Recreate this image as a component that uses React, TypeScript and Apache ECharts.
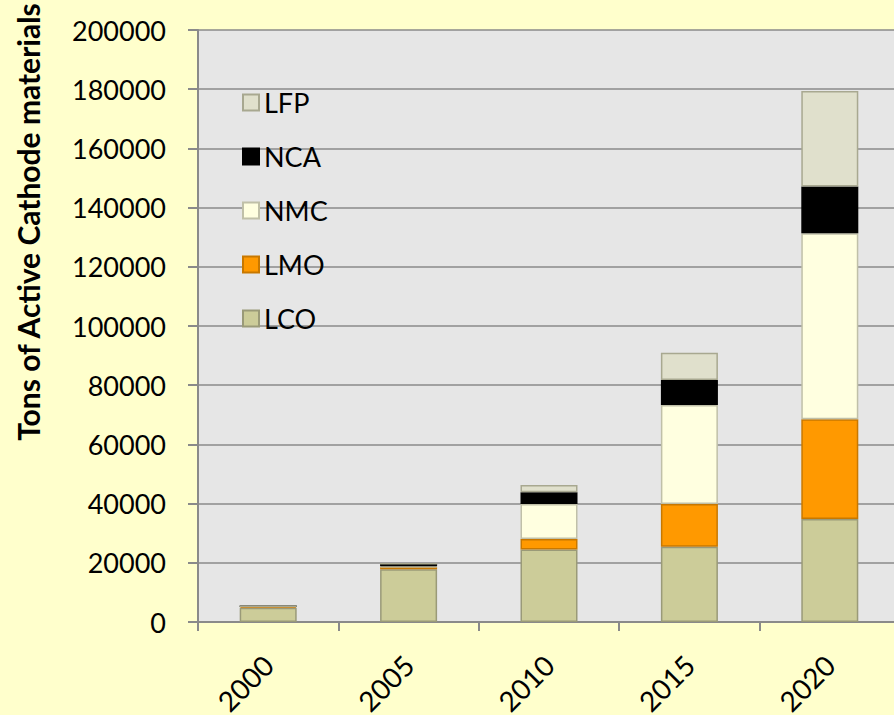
import React, { useEffect, useRef } from "react";
import * as echarts from "echarts";

const years = ["2000", "2005", "2010", "2015", "2020"];
const lco = [4800, 17800, 24500, 25400, 34800];
const lmo = [500, 700, 3500, 14500, 33700];
const nmc = [0, 300, 11900, 33400, 62800];
const nca = [0, 900, 3900, 8450, 15800];
const lfp = [0, 0, 2500, 9250, 32300];
const legendOrder = ["LFP", "NCA", "NMC", "LMO", "LCO"];

const FONT = "Lato, 'Open Sans', sans-serif";

export default function App() {
  const ref = useRef<HTMLDivElement>(null);
  useEffect(() => {
    document.body.style.margin = "0";
    document.body.style.overflow = "hidden";
    const chart = echarts.init(ref.current!, null, { renderer: "svg" });
    const mk = (name: string, data: number[], color: string, border: string) => ({
      name,
      type: "bar",
      stack: "total",
      data,
      barWidth: 57,
      itemStyle: { color, borderColor: border, borderWidth: 1.5 },
    });
    chart.setOption({
      animation: false,
      backgroundColor: "#FFFFCC",
      textStyle: { fontFamily: FONT },
      grid: {
        left: 198,
        top: 30,
        right: -6,
        bottom: 93,
        outerBoundsMode: "none",
        containLabel: false,
        show: true,
        backgroundColor: "#E6E6E6",
        borderWidth: 0,
      },
      legend: {
        data: legendOrder,
        orient: "vertical",
        left: 237,
        top: 84,
        icon: "rect",
        itemWidth: 16,
        itemHeight: 16,
        itemGap: 27,
        textStyle: { fontSize: 27, color: "#000", fontFamily: FONT },
      },
      graphic: [
        {
          type: "text",
          x: 28,
          y: 222,
          rotation: Math.PI / 2,
          style: {
            text: "Tons of Active Cathode materials",
            fontSize: 30,
            fontWeight: "bold",
            fontFamily: FONT,
            fill: "#000",
            textAlign: "center",
            textVerticalAlign: "middle",
          },
        },
      ],
      xAxis: {
        type: "category",
        data: years,
        axisLine: { lineStyle: { color: "#8a8a8a", width: 2 } },
        axisTick: { show: true, length: 9, lineStyle: { color: "#8a8a8a", width: 2 } },
        axisLabel: { rotate: 45, fontSize: 28, color: "#000", margin: 38, fontFamily: FONT },
      },
      yAxis: {
        type: "value",
        min: 0,
        max: 200000,
        interval: 20000,
        axisLine: { show: true, lineStyle: { color: "#8a8a8a", width: 2 } },
        axisTick: { show: true, length: 10, lineStyle: { color: "#8a8a8a", width: 2 } },
        axisLabel: {
          fontSize: 27,
          color: "#000",
          margin: 32,
          fontFamily: FONT,
          formatter: (v: number) => String(v),
        },
        splitLine: { lineStyle: { color: "#8a8a8a", width: 1.5 } },
      },
      series: [
        mk("LCO", lco, "#CCCC99", "#9A9A78"),
        mk("LMO", lmo, "#FF9900", "#C87800"),
        mk("NMC", nmc, "#FFFFE0", "#C0C0A8"),
        mk("NCA", nca, "#000000", "#000000"),
        mk("LFP", lfp, "#E0E0CC", "#A8A890"),
      ],
    });
    return () => chart.dispose();
  }, []);
  return <div ref={ref} style={{ width: 894, height: 715 }} />;
}
